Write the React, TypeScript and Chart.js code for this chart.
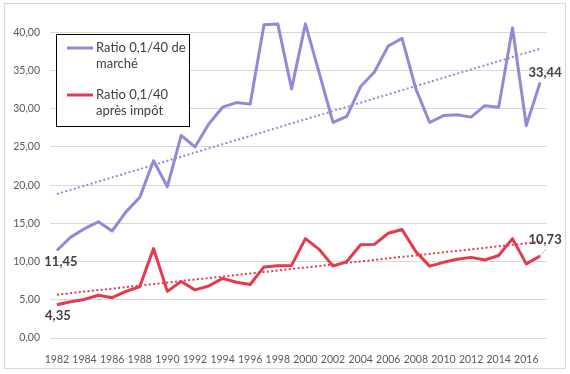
import React, { useEffect, useRef } from 'react';
import { Chart, registerables } from 'chart.js';

Chart.register(...registerables);

const years = [
  '1982', '1983', '1984', '1985', '1986', '1987', '1988', '1989', '1990', '1991',
  '1992', '1993', '1994', '1995', '1996', '1997', '1998', '1999', '2000', '2001',
  '2002', '2003', '2004', '2005', '2006', '2007', '2008', '2009', '2010', '2011',
  '2012', '2013', '2014', '2015', '2016', '2017',
];

const marketRatio = [
  11.45, 13.2, 14.3, 15.2, 14.0, 16.5, 18.4, 23.2, 19.8, 26.5,
  25.0, 28.0, 30.2, 30.8, 30.6, 41.0, 41.1, 32.6, 41.1, 34.7,
  28.2, 29.0, 32.9, 34.8, 38.2, 39.2, 32.6, 28.2, 29.1, 29.2,
  28.9, 30.4, 30.2, 40.6, 27.8, 33.44,
];

const afterTaxRatio = [
  4.35, 4.75, 5.05, 5.6, 5.27, 6.1, 6.7, 11.7, 6.1, 7.4,
  6.3, 6.8, 7.8, 7.3, 7.0, 9.3, 9.45, 9.5, 13.0, 11.6,
  9.4, 10.0, 12.2, 12.25, 13.7, 14.2, 11.3, 9.4, 9.9, 10.3,
  10.55, 10.2, 10.8, 13.0, 9.7, 10.73,
];

const yTicks = [0, 5, 10, 15, 20, 25, 30, 35, 40];

const seriesNames = [['Ratio 0,1/40 de', 'marché'], ['Ratio 0,1/40', 'après impôt']];

const PURPLE = '#9787D8';
const RED = '#E63A4C';
const FONT = 'Lato, "Open Sans", sans-serif';

function fmt(v: number) {
  return v.toFixed(2).replace('.', ',');
}

function trend(values: number[]) {
  const n = values.length;
  let sx = 0, sy = 0, sxy = 0, sxx = 0;
  values.forEach((y, x) => { sx += x; sy += y; sxy += x * y; sxx += x * x; });
  const slope = (n * sxy - sx * sy) / (n * sxx - sx * sx);
  const icpt = (sy - slope * sx) / n;
  return values.map((_, x) => icpt + slope * x);
}

const decorPlugin = {
  id: 'decor',
  beforeDraw(chart: any) {
    const ctx = chart.ctx;
    ctx.save();
    ctx.fillStyle = '#ffffff';
    ctx.fillRect(0, 0, chart.width, chart.height);
    ctx.strokeStyle = '#D9D9D9';
    ctx.lineWidth = 1;
    ctx.strokeRect(4.5, 3.5, 561, 365);
    ctx.restore();
  },
  afterDraw(chart: any) {
    const ctx = chart.ctx;
    ctx.save();
    const labels = [
      { ds: 0, idx: 0, dx: 4, dy: 11 },
      { ds: 1, idx: 0, dx: 1, dy: 11 },
      { ds: 0, idx: marketRatio.length - 1, dx: 5, dy: -10 },
      { ds: 1, idx: afterTaxRatio.length - 1, dx: 5, dy: -16, leader: true },
    ];
    ctx.font = `bold 13px ${FONT}`;
    ctx.textAlign = 'center';
    ctx.textBaseline = 'middle';
    labels.forEach((l) => {
      const pt = chart.getDatasetMeta(l.ds).data[l.idx];
      const v = chart.data.datasets[l.ds].data[l.idx];
      if (l.leader) {
        ctx.strokeStyle = '#BFBFBF';
        ctx.lineWidth = 1;
        ctx.beginPath();
        ctx.moveTo(pt.x, pt.y);
        ctx.lineTo(pt.x + 6, pt.y - 7);
        ctx.stroke();
      }
      ctx.fillStyle = '#404040';
      ctx.fillText(fmt(v), pt.x + l.dx, pt.y + l.dy);
    });
    ctx.fillStyle = '#ffffff';
    ctx.fillRect(56, 34, 133, 93);
    ctx.strokeStyle = '#000000';
    ctx.lineWidth = 1;
    ctx.strokeRect(56.5, 34.5, 133, 92);
    const colors = [PURPLE, RED];
    const rows = [48, 95];
    ctx.font = `13px ${FONT}`;
    ctx.textAlign = 'left';
    seriesNames.forEach((name, i) => {
      ctx.strokeStyle = colors[i];
      ctx.lineWidth = 3;
      ctx.beginPath();
      ctx.moveTo(67, rows[i]);
      ctx.lineTo(93, rows[i]);
      ctx.stroke();
      ctx.fillStyle = '#404040';
      ctx.fillText(name[0], 96, rows[i]);
      ctx.fillText(name[1], 96, rows[i] + 16);
    });
    ctx.restore();
  },
};

export default function App() {
  const ref = useRef<HTMLCanvasElement | null>(null);
  useEffect(() => {
    if (!ref.current) return;
    const chart = new Chart(ref.current, {
      type: 'line',
      data: {
        labels: years,
        datasets: [
          {
            label: seriesNames[0].join(' '),
            data: marketRatio,
            borderColor: PURPLE,
            borderWidth: 3,
            pointRadius: 0,
            borderJoinStyle: 'round',
            tension: 0,
            order: 2,
          },
          {
            label: seriesNames[1].join(' '),
            data: afterTaxRatio,
            borderColor: RED,
            borderWidth: 3,
            pointRadius: 0,
            borderJoinStyle: 'round',
            tension: 0,
            order: 2,
          },
          {
            label: 'trend1',
            data: trend(marketRatio),
            borderColor: PURPLE,
            borderWidth: 2,
            borderDash: [2, 2.4],
            pointRadius: 0,
            order: 1,
          },
          {
            label: 'trend2',
            data: trend(afterTaxRatio),
            borderColor: RED,
            borderWidth: 2,
            borderDash: [2, 2.4],
            pointRadius: 0,
            order: 1,
          },
        ],
      },
      options: {
        responsive: false,
        animation: false,
        devicePixelRatio: 1,
        layout: { padding: { left: 0, right: 23, top: 17, bottom: 0 } },
        plugins: { legend: { display: false }, tooltip: { enabled: false } },
        scales: {
          x: {
            type: 'category',
            offset: true,
            grid: { display: false },
            border: { display: false },
            ticks: {
              autoSkip: false,
              maxRotation: 0,
              minRotation: 0,
              padding: 7,
              color: '#595959',
              font: { family: FONT, size: 10.5 },
              callback: (_v: any, i: number) => (i % 2 === 0 ? years[i] : ''),
            },
            afterFit: (s: any) => { s.height = 36; },
          },
          y: {
            min: 0,
            max: 42,
            grid: { color: '#D9D9D9', lineWidth: 1, drawTicks: false },
            border: { display: false },
            afterBuildTicks: (s: any) => { s.ticks = yTicks.map((v) => ({ value: v })); },
            ticks: {
              padding: 10,
              color: '#595959',
              font: { family: FONT, size: 10.5 },
              callback: (v: any) => fmt(Number(v)),
            },
            afterFit: (s: any) => { s.width = 50; },
          },
        },
      },
      plugins: [decorPlugin],
    });
    return () => chart.destroy();
  }, []);
  return (
    <div style={{ position: 'absolute', left: 0, top: 0, width: 570, height: 374 }}>
      <canvas ref={ref} width={570} height={374} />
    </div>
  );
}
